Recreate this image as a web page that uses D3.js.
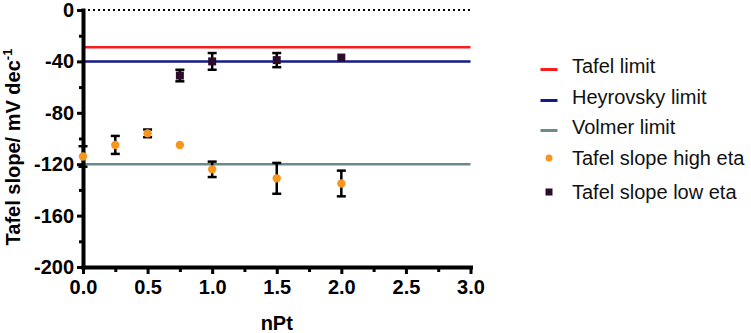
<!DOCTYPE html>
<html>
<head>
<meta charset="utf-8">
<script src="https://cdn.jsdelivr.net/npm/d3@7"></script>
<style>
  body { margin: 0; background: #fff; }
  svg { display: block; font-family: "Liberation Sans", Arial, sans-serif; }
</style>
</head>
<body>
<svg id="chart" width="751" height="333"></svg>
<script>
// ---- data
const nPtHigh = [0, 0.25, 0.5, 0.75, 1.0, 1.5, 2.0]
const slopeHigh = [-114, -105, -96, -105, -124, -131, -135]
const errHigh = [8, 7, 3, 0, 6, 12, 10]

const nPtLow = [0.75, 1.0, 1.5, 2.0]
const slopeLow = [-51, -40, -39, -37]
const errLow = [4.5, 6.5, 5.5, 0]

const limitNames = ["Tafel limit", "Heyrovsky limit", "Volmer limit"]
const limitValues = [-29, -40, -120]
const limitColors = ["#f51d1d", "#141a8a", "#6c8a8e"]

const yTicks = [-200, -160, -120, -80, -40, 0]
const yMinorTicks = [-180, -140, -100, -60, -20]
const xTicks = [0, 0.5, 1.0, 1.5, 2.0, 2.5, 3.0]
const xMinorTicks = [0.25, 0.75, 1.25, 1.75, 2.25, 2.75]

const highColor = "#f7961f"
const lowColor = "#2c0c2c"

const svg = d3.select("#chart")
const x = d3.scaleLinear().domain([0, 3]).range([83, 470.5])
const y = d3.scaleLinear().domain([-200, 0]).range([267, 10])

//--------- limit lines + zero line
svg.selectAll(".limit").data(limitValues).join("line").attr("class", "limit")
  .attr("x1", x(0)).attr("x2", x(3)).attr("y1", d => y(d)).attr("y2", d => y(d))
  .attr("stroke", (d, i) => limitColors[i]).attr("stroke-width", 2.5)
svg.append("line").attr("x1", x(0)).attr("x2", x(3)).attr("y1", y(0)).attr("y2", y(0))
  .attr("stroke", "#000").attr("stroke-width", 2).attr("stroke-dasharray", "2,3")

//--------- axes
svg.append("g").attr("transform", "translate(" + x(0) + ",0)")
  .call(d3.axisLeft(y).tickValues(yTicks).tickSize(6).tickSizeOuter(0).tickPadding(3).tickFormat(d => String(d)))
svg.append("g").attr("transform", "translate(" + x(0) + ",0)")
  .call(d3.axisLeft(y).tickValues(yMinorTicks).tickSize(4).tickSizeOuter(0).tickFormat(""))
  .call(g => g.select(".domain").remove())
svg.append("g").attr("transform", "translate(0," + y(-200) + ")")
  .call(d3.axisBottom(x).tickValues(xTicks).tickSize(7).tickSizeOuter(0).tickPadding(6).tickFormat(d3.format(".1f")))
svg.append("g").attr("transform", "translate(0," + y(-200) + ")")
  .call(d3.axisBottom(x).tickValues(xMinorTicks).tickSize(5).tickSizeOuter(0).tickFormat(""))
  .call(g => g.select(".domain").remove())

svg.selectAll(".domain").attr("stroke", "#000").attr("stroke-width", 4).attr("stroke-linecap", "square")
svg.selectAll(".tick line").attr("stroke", "#000").attr("stroke-width", 3)
svg.selectAll(".tick text").attr("font-size", 20).attr("font-weight", "bold")
  .attr("font-family", "'Liberation Sans', Arial, sans-serif").attr("fill", "#000")

// axis titles
svg.append("text").attr("x", (x(0) + x(3)) / 2).attr("y", 330).attr("text-anchor", "middle")
  .attr("font-size", 20).attr("font-weight", "bold").text("nPt")
const ylab = svg.append("text").attr("transform", "translate(20,147) rotate(-90)").attr("text-anchor", "middle")
  .attr("font-size", 20).attr("font-weight", "bold")
ylab.append("tspan").text("Tafel slope/ mV dec")
ylab.append("tspan").attr("font-size", 13).attr("dy", -8).text("-1")

//--------- error bars
function errorBars(xs, ys, es, cls) {
  const rows = xs.map((d, i) => ({ x: d, y: ys[i], e: es[i] })).filter(d => d.e > 0)
  const g = svg.selectAll("." + cls).data(rows).join("g").attr("class", cls)
  g.append("line").attr("x1", d => x(d.x)).attr("x2", d => x(d.x))
    .attr("y1", d => y(d.y + d.e)).attr("y2", d => y(d.y - d.e))
  g.append("line").attr("x1", d => x(d.x) - 4.5).attr("x2", d => x(d.x) + 4.5)
    .attr("y1", d => y(d.y + d.e)).attr("y2", d => y(d.y + d.e))
  g.append("line").attr("x1", d => x(d.x) - 4.5).attr("x2", d => x(d.x) + 4.5)
    .attr("y1", d => y(d.y - d.e)).attr("y2", d => y(d.y - d.e))
  g.selectAll("line").attr("stroke", "#000").attr("stroke-width", 2.5)
}
errorBars(nPtHigh, slopeHigh, errHigh, "err_high")
errorBars(nPtLow, slopeLow, errLow, "err_low")

//--------- points
svg.selectAll(".pt_high").data(nPtHigh).join("circle").attr("class", "pt_high")
  .attr("cx", d => x(d)).attr("cy", (d, i) => y(slopeHigh[i])).attr("r", 4.2).attr("fill", highColor)
svg.selectAll(".pt_low").data(nPtLow).join("rect").attr("class", "pt_low")
  .attr("x", d => x(d) - 4).attr("y", (d, i) => y(slopeLow[i]) - 4).attr("width", 8).attr("height", 8).attr("fill", lowColor)

//--------- legend
const legendItems = limitNames.map((n, i) => ({ name: n, kind: "line", color: limitColors[i] }))
  .concat([{ name: "Tafel slope high eta", kind: "circle", color: highColor },
           { name: "Tafel slope low eta", kind: "square", color: lowColor }])
const legendY = [66, 97, 127, 158, 192]
const lg = svg.selectAll(".legend").data(legendItems).join("g").attr("class", "legend")
  .attr("transform", (d, i) => "translate(549," + legendY[i] + ")")
lg.filter(d => d.kind === "line").append("line").attr("x1", -8.5).attr("x2", 8.5).attr("y1", 3.5).attr("y2", 3.5)
  .attr("stroke", d => d.color).attr("stroke-width", 3)
lg.filter(d => d.kind === "circle").append("circle").attr("r", 3.5).attr("fill", d => d.color)
lg.filter(d => d.kind === "square").append("rect").attr("x", -3.5).attr("y", -3.5).attr("width", 7).attr("height", 7).attr("fill", d => d.color)
lg.append("text").attr("x", 23).attr("y", 7).attr("font-size", 20).attr("fill", "#111").text(d => d.name)
</script>
</body>
</html>
